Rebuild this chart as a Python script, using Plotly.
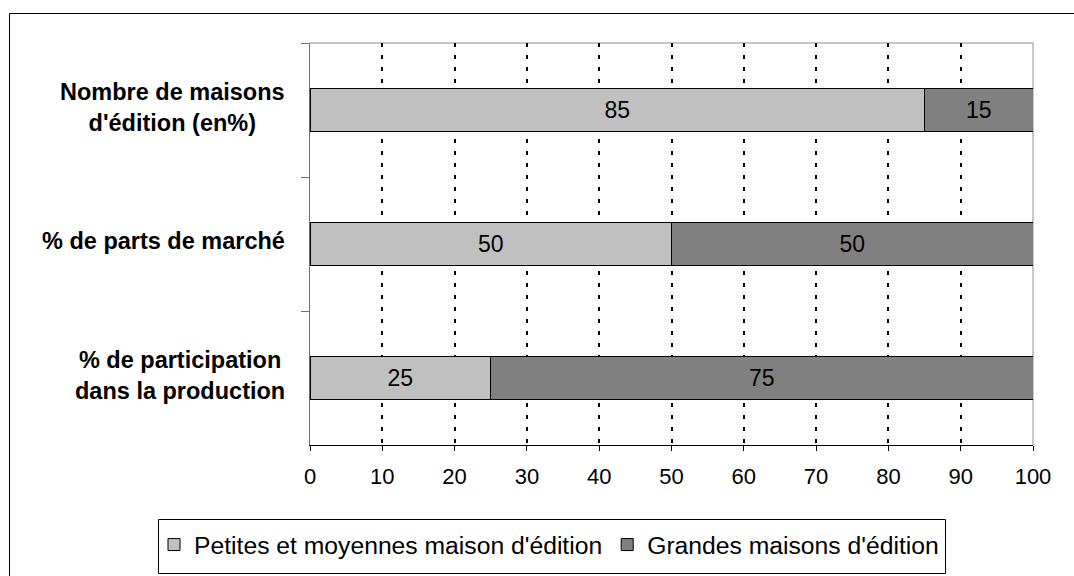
import plotly.graph_objects as go

# Categories, top to bottom
categories = [
    "Nombre de maisons<br>d'édition (en%)",
    "% de parts de marché",
    "% de participation<br>dans la production",
]
small_houses = [85, 50, 25]
large_houses = [15, 50, 75]
series_names = ["Petites et moyennes maison d'édition", "Grandes maisons d'édition"]
x_ticks = list(range(0, 101, 10))

FONT = "Liberation Sans, Arial, sans-serif"
W, H = 1074, 576
L, R, T, B = 310, 1033, 43, 445

fig = go.Figure()
for name, vals, color in [
    (series_names[0], small_houses, "#C0C0C0"),
    (series_names[1], large_houses, "#808080"),
]:
    fig.add_trace(go.Bar(
        y=categories, x=vals, name=name, orientation="h",
        marker=dict(color=color, line=dict(color="#000000", width=1)),
        text=[str(v) for v in vals], textposition="inside",
        insidetextanchor="middle", constraintext="none",
        textfont=dict(family=FONT, size=23, color="#000000"),
        hoverinfo="skip",
    ))

# Category labels, centred multi-line blocks to the left of the axis
for cat in categories:
    fig.add_annotation(
        x=0, xref="paper", y=cat, yref="y", xanchor="right", yanchor="middle",
        xshift=-23, yshift=3, text="<b>%s</b>" % cat, showarrow=False,
        align="center", font=dict(family=FONT, size=23.5, color="#000000"),
    )

ph = B - T
pw = R - L


def px_x(x):
    return (x - L) / pw


def px_y(y):
    return (B - y) / ph


shapes = [
    # outer chart frame
    dict(type="rect", xref="paper", yref="paper",
         x0=px_x(9.5), x1=px_x(W + 20), y0=px_y(H + 20), y1=px_y(13.5),
         line=dict(color="#000000", width=1), layer="below"),
    # plot area frame (top and right)
    dict(type="line", xref="paper", yref="paper", x0=0, x1=1, y0=1, y1=1,
         line=dict(color="#8c8c8c", width=1), layer="below"),
    dict(type="line", xref="paper", yref="paper", x0=1, x1=1, y0=0, y1=1,
         line=dict(color="#8c8c8c", width=1), layer="below"),
    # legend frame
    dict(type="rect", xref="paper", yref="paper",
         x0=px_x(158.5), x1=px_x(945.5), y0=px_y(573.5), y1=px_y(519.5),
         line=dict(color="#000000", width=1), layer="above"),
]

fig.update_layout(
    width=W, height=H,
    margin=dict(l=L, r=W - R, t=T, b=H - B, pad=0, autoexpand=False),
    paper_bgcolor="#FFFFFF", plot_bgcolor="#FFFFFF",
    barmode="stack", bargap=0.684,
    font=dict(family=FONT, size=23, color="#000000"),
    showlegend=True,
    legend=dict(
        orientation="h", x=px_x(154), xanchor="left",
        y=px_y(522), yanchor="top",
        borderwidth=0, bgcolor="rgba(0,0,0,0)",
        font=dict(family=FONT, size=24.7, color="#000000"),
        traceorder="normal",
    ),
    shapes=shapes,
    xaxis=dict(
        range=[0, 100], tickvals=x_ticks, ticktext=[str(t) for t in x_ticks],
        showgrid=True, gridcolor="#000000", gridwidth=2, griddash="4px,8px",
        zeroline=False, showline=True, linecolor="#000000", linewidth=1,
        ticks="outside", ticklen=5, tickcolor="#000000", ticklabelstandoff=7,
        tickfont=dict(family=FONT, size=22, color="#000000"),
        fixedrange=True,
    ),
    yaxis=dict(
        type="category", categoryorder="array", categoryarray=categories,
        autorange="reversed", showticklabels=False,
        showgrid=False, zeroline=False,
        showline=True, linecolor="#6e6e6e", linewidth=1,
        ticks="outside", tickson="boundaries", ticklen=8, tickcolor="#6e6e6e",
        fixedrange=True,
    ),
)

fig.write_html("out.html")
